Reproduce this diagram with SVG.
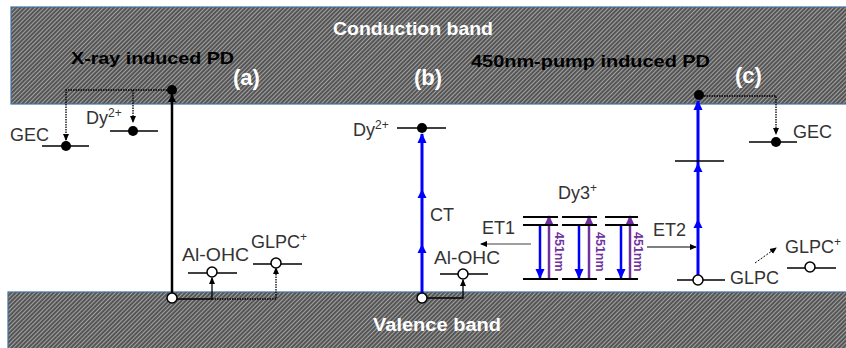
<svg xmlns="http://www.w3.org/2000/svg" width="846" height="348" viewBox="0 0 846 348">
<defs>
<pattern id="hatch" width="3" height="3" patternUnits="userSpaceOnUse" patternTransform="rotate(45)">
<rect width="3" height="3" fill="#555555"/>
<line x1="0" y1="0" x2="0" y2="3" stroke="#c4c4c4" stroke-width="1.4"/>
</pattern>
<marker id="ab" markerWidth="8" markerHeight="8" refX="7" refY="4" orient="auto" markerUnits="userSpaceOnUse">
<path d="M0,0 L8,4 L0,8 z" fill="#000"/>
</marker>
<marker id="abs" markerWidth="7" markerHeight="7" refX="6" refY="3.5" orient="auto" markerUnits="userSpaceOnUse">
<path d="M0,0.5 L7,3.5 L0,6.5 z" fill="#000"/>
</marker>
<marker id="ablue" markerWidth="10" markerHeight="10" refX="9" refY="5" orient="auto" markerUnits="userSpaceOnUse">
<path d="M0,0.5 L10,5 L0,9.5 z" fill="#0000ff"/>
</marker>
<marker id="apur" markerWidth="10" markerHeight="10" refX="9" refY="5" orient="auto" markerUnits="userSpaceOnUse">
<path d="M0,0.5 L10,5 L0,9.5 z" fill="#7030a0"/>
</marker>
</defs>
<style>
.band{fill:url(#hatch);stroke:#41719c;stroke-width:1.2}
.bt{font-family:"Liberation Sans",Arial,sans-serif;font-weight:bold;fill:#fff}
.tt{font-family:"Liberation Sans",Arial,sans-serif;font-weight:bold;fill:#000}
.pl{font-family:"Liberation Sans",Arial,sans-serif;font-weight:bold;fill:#fff;font-size:22px}
.lb{font-family:"Liberation Sans",Arial,sans-serif;fill:#333;font-size:18px}
.sup{font-size:12px}
.lvl{stroke:#000;stroke-width:1.5}
.lv3{stroke:#000;stroke-width:2}
.dot{fill:#000}
.hole{fill:#fff;stroke:#000;stroke-width:1.5}
.conn{fill:none;stroke:#000;stroke-width:1.3}
.dash{fill:none;stroke:#000;stroke-width:1.3;stroke-dasharray:1.5 1}
.blue{stroke:#0000ff;stroke-width:3;fill:none}
.bdn{stroke:#0000ff;stroke-width:2.5;fill:none}
.pup{stroke:#7030a0;stroke-width:2.5;fill:none}
.nm{font-family:"Liberation Sans",Arial,sans-serif;font-weight:bold;fill:#7030a0;font-size:12.5px}
</style>

<g id="bands">
<rect class="band" x="11" y="7" width="845" height="97"/>
<rect class="band" x="8" y="292" width="848" height="70"/>
<text class="bt" x="333" y="35" font-size="18" textLength="160" lengthAdjust="spacingAndGlyphs">Conduction band</text>
<text class="bt" x="373" y="331" font-size="18" textLength="128" lengthAdjust="spacingAndGlyphs">Valence band</text>
</g>

<g id="titles">
<text class="tt" x="71" y="64" font-size="17" textLength="163" lengthAdjust="spacingAndGlyphs">X-ray induced PD</text>
<text class="tt" x="471" y="67" font-size="17" textLength="239" lengthAdjust="spacingAndGlyphs">450nm-pump induced PD</text>
<text class="pl" x="233" y="85">(a)</text>
<text class="pl" x="414" y="85">(b)</text>
<text class="pl" x="735" y="83">(c)</text>
</g>

<g id="connectors">
<!-- (a) -->
<line x1="172" y1="293" x2="172" y2="95" stroke="#000" stroke-width="2.5" marker-end="url(#ab)"/>
<polyline class="dash" points="172,90 66,90 66,140" marker-end="url(#abs)"/>
<polyline class="dash" points="133,90 133,122" marker-end="url(#abs)"/>
<polyline class="conn" points="177,299 212,299"/>
<polyline class="dash" points="212,299 276,299 276,268" marker-end="url(#abs)"/>
<polyline class="conn" points="212,299 212,278" marker-end="url(#abs)"/>
<!-- (b) -->
<line class="blue" x1="422" y1="293" x2="422" y2="134" marker-end="url(#ablue)"/>
<path d="M422,189 L426.5,198 L417.5,198 z" fill="#0000ff"/>
<path d="M422,244 L426.5,253 L417.5,253 z" fill="#0000ff"/>
<polyline class="conn" points="427,298 463,298 463,280" marker-end="url(#abs)"/>
<!-- ET1 / ET2 -->
<line x1="531" y1="244" x2="481" y2="244" stroke="#808080" stroke-width="1.3" marker-end="url(#abs)"/>
<line x1="647" y1="247" x2="696" y2="247" stroke="#000" stroke-width="1.1" marker-end="url(#abs)"/>
<!-- Dy3+ transitions -->
<line class="bdn" x1="540" y1="226" x2="540" y2="278" marker-end="url(#ablue)"/>
<line class="pup" x1="549" y1="279" x2="549" y2="216" marker-end="url(#apur)"/>
<line class="bdn" x1="579" y1="226" x2="579" y2="278" marker-end="url(#ablue)"/>
<line class="pup" x1="589" y1="279" x2="589" y2="216" marker-end="url(#apur)"/>
<line class="bdn" x1="621" y1="226" x2="621" y2="278" marker-end="url(#ablue)"/>
<line class="pup" x1="630" y1="279" x2="630" y2="216" marker-end="url(#apur)"/>
<!-- (c) -->
<line class="blue" x1="698" y1="275" x2="698" y2="101" marker-end="url(#ablue)"/>
<path d="M698,163 L702.5,172 L693.5,172 z" fill="#0000ff"/>
<path d="M698,219 L702.5,228 L693.5,228 z" fill="#0000ff"/>
<polyline class="dash" points="699,96 776,96 776,134" marker-end="url(#abs)"/>
<line x1="755" y1="263" x2="776" y2="248" stroke="#000" stroke-width="1" stroke-dasharray="2 1.5" marker-end="url(#abs)"/>
</g>

<g id="a-GEC">
<line class="lvl" x1="42" y1="146" x2="89" y2="146"/>
<circle class="dot" cx="66" cy="146" r="5"/>
<text class="lb" x="10" y="141">GEC</text>
</g>
<g id="a-Dy2">
<line class="lvl" x1="110" y1="131" x2="158" y2="131"/>
<circle class="dot" cx="133" cy="131" r="5"/>
<text class="lb" x="86" y="124">Dy<tspan class="sup" dy="-7">2+</tspan></text>
</g>
<g id="a-CB-electron">
<circle class="dot" cx="172" cy="90" r="5"/>
</g>
<g id="a-VB-hole">
<circle class="hole" cx="172" cy="298" r="5"/>
</g>
<g id="a-AlOHC">
<line class="lvl" x1="188" y1="273" x2="237" y2="273"/>
<circle class="hole" cx="212" cy="272" r="5"/>
<text class="lb" x="182" y="261" textLength="67" lengthAdjust="spacingAndGlyphs">Al-OHC</text>
</g>
<g id="a-GLPCp">
<line class="lvl" x1="253" y1="264" x2="302" y2="264"/>
<circle class="hole" cx="276" cy="263" r="5"/>
<text class="lb" x="251" y="248">GLPC<tspan class="sup" dy="-7">+</tspan></text>
</g>

<g id="b-Dy2">
<line class="lvl" x1="397" y1="128" x2="446" y2="128"/>
<circle class="dot" cx="422" cy="128" r="5"/>
<text class="lb" x="353" y="136">Dy<tspan class="sup" dy="-7">2+</tspan></text>
</g>
<g id="b-CT">
<text class="lb" x="430" y="221">CT</text>
</g>
<g id="b-VB-hole">
<circle class="hole" cx="422" cy="298" r="5"/>
</g>
<g id="b-AlOHC">
<line class="lvl" x1="440" y1="274" x2="488" y2="274"/>
<circle class="hole" cx="463" cy="274" r="5"/>
<text class="lb" x="434" y="264" textLength="66" lengthAdjust="spacingAndGlyphs">Al-OHC</text>
</g>

<g id="Dy3">
<text class="lb" x="558" y="199">Dy3<tspan class="sup" dy="-7">+</tspan></text>
<line class="lv3" x1="523" y1="217" x2="558" y2="217"/>
<line class="lv3" x1="523" y1="225" x2="558" y2="225"/>
<line class="lv3" x1="523" y1="279" x2="558" y2="279"/>
<line class="lv3" x1="562" y1="217" x2="597" y2="217"/>
<line class="lv3" x1="562" y1="225" x2="597" y2="225"/>
<line class="lv3" x1="562" y1="279" x2="597" y2="279"/>
<line class="lv3" x1="605" y1="217" x2="638" y2="217"/>
<line class="lv3" x1="605" y1="225" x2="638" y2="225"/>
<line class="lv3" x1="605" y1="279" x2="638" y2="279"/>
<text class="nm" transform="translate(555,232) rotate(90)">451nm</text>
<text class="nm" transform="translate(596,232) rotate(90)">451nm</text>
<text class="nm" transform="translate(634,232) rotate(90)">451nm</text>
</g>
<g id="ET1"><text class="lb" x="482" y="234">ET1</text></g>
<g id="ET2"><text class="lb" x="653" y="236">ET2</text></g>

<g id="c-CB-electron">
<circle class="dot" cx="699" cy="95" r="5"/>
</g>
<g id="c-mid-level">
<line class="lvl" x1="675" y1="161" x2="724" y2="161"/>
</g>
<g id="c-GEC">
<line class="lvl" x1="749" y1="142" x2="797" y2="142"/>
<circle class="dot" cx="776" cy="142" r="5"/>
<text class="lb" x="793" y="138">GEC</text>
</g>
<g id="c-GLPC">
<line class="lvl" x1="677" y1="280" x2="725" y2="280"/>
<circle class="hole" cx="698" cy="280" r="5"/>
<text class="lb" x="730" y="284">GLPC</text>
</g>
<g id="c-GLPCp">
<line class="lvl" x1="787" y1="268" x2="836" y2="268"/>
<circle class="hole" cx="810" cy="267" r="5"/>
<text class="lb" x="785" y="253">GLPC<tspan class="sup" dy="-7">+</tspan></text>
</g>
</svg>
